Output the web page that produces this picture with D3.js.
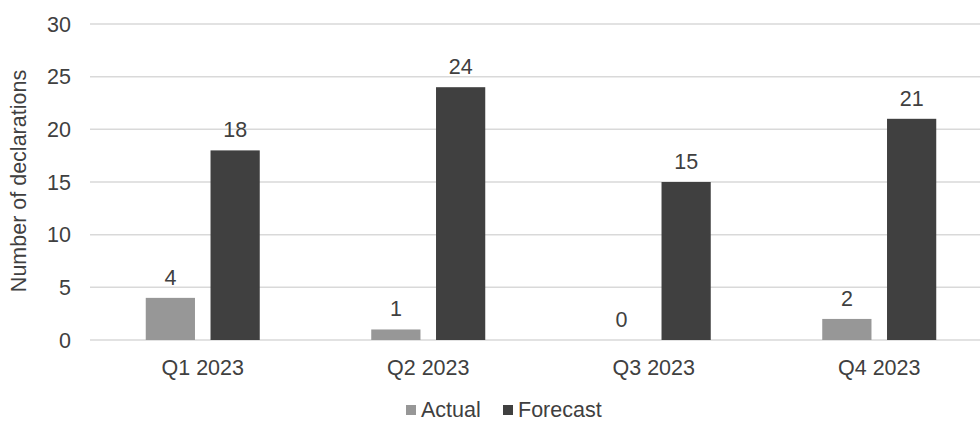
<!DOCTYPE html>
<meta charset="utf-8">
<title>Declarations</title>
<style>
body { margin: 0; background: #fff; }
text { font-family: "Liberation Sans", Arial, sans-serif; fill: #404040; }
</style>
<svg width="980" height="422"></svg>
<script src="https://d3js.org/d3.v7.min.js"></script>
<script>
var quarters = ["Q1 2023", "Q2 2023", "Q3 2023", "Q4 2023"];
var series = ["Actual", "Forecast"];
var actual = [4, 1, 0, 2];
var forecast = [18, 24, 15, 21];
var yTicks = [0, 5, 10, 15, 20, 25, 30];
var colors = ["#979797", "#404040"];

var svg = d3.select("svg");
var margin = {top: 24, left: 90};
var width = 902;          // plot runs past the right edge, as in the source
var height = 340 - margin.top;
var fs = "21.5px";

var g = svg.append("g").attr("transform", "translate(" + margin.left + "," + margin.top + ")");

var x = d3.scaleBand().domain(quarters).range([0, width]);
var xs = d3.scaleBand().domain(series).range([0, 114]).paddingInner(0.24);
var y = d3.scaleLinear().domain([0, 30]).range([height, 0]);

// gridlines
g.selectAll("line.grid")
  .data(yTicks)
  .enter().append("line")
    .attr("x1", 0).attr("x2", width)
    .attr("y1", function(d) { return y(d); })
    .attr("y2", function(d) { return y(d); })
    .attr("stroke", "#d9d9d9")
    .attr("stroke-width", 1.5);

// y tick labels
g.selectAll("text.ytick")
  .data(yTicks)
  .enter().append("text")
    .attr("x", -19)
    .attr("y", function(d) { return y(d); })
    .attr("dy", "0.35em")
    .attr("text-anchor", "end")
    .style("font-size", fs)
    .text(function(d) { return d; });

// x labels
g.selectAll("text.xtick")
  .data(quarters)
  .enter().append("text")
    .attr("x", function(d) { return x(d) + x.bandwidth() / 2; })
    .attr("y", height + 35)
    .attr("text-anchor", "middle")
    .style("font-size", fs)
    .text(function(d) { return d; });

var rows = quarters.map(function(q, i) {
  return {q: q, values: [{k: "Actual", v: actual[i]}, {k: "Forecast", v: forecast[i]}]};
});

var groups = g.selectAll("g.q")
  .data(rows)
  .enter().append("g")
    .attr("transform", function(d) { return "translate(" + (x(d.q) + x.bandwidth() / 2 - 57) + ",0)"; });

groups.selectAll("rect")
  .data(function(d) { return d.values; })
  .enter().append("rect")
    .attr("x", function(d) { return xs(d.k); })
    .attr("width", xs.bandwidth())
    .attr("y", function(d) { return y(d.v); })
    .attr("height", function(d) { return height - y(d.v); })
    .attr("fill", function(d, i) { return colors[i]; });

groups.selectAll("text")
  .data(function(d) { return d.values; })
  .enter().append("text")
    .attr("x", function(d) { return xs(d.k) + xs.bandwidth() / 2; })
    .attr("y", function(d) { return y(d.v) - 13; })
    .attr("text-anchor", "middle")
    .style("font-size", fs)
    .text(function(d) { return d.v; });

// y axis title
svg.append("text")
  .attr("transform", "translate(26,181) rotate(-90)")
  .attr("text-anchor", "middle")
  .style("font-size", fs)
  .text("Number of declarations");

// legend
var legend = svg.append("g").attr("transform", "translate(406,409)");
var legendX = [0, 97];
series.forEach(function(s, i) {
  var item = legend.append("g").attr("transform", "translate(" + legendX[i] + ",0)");
  item.append("rect").attr("x", 0).attr("y", -4).attr("width", 10).attr("height", 10).attr("fill", colors[i]);
  item.append("text").attr("x", 15).attr("y", 0).attr("dy", "0.35em").style("font-size", fs).text(s);
});
</script>
